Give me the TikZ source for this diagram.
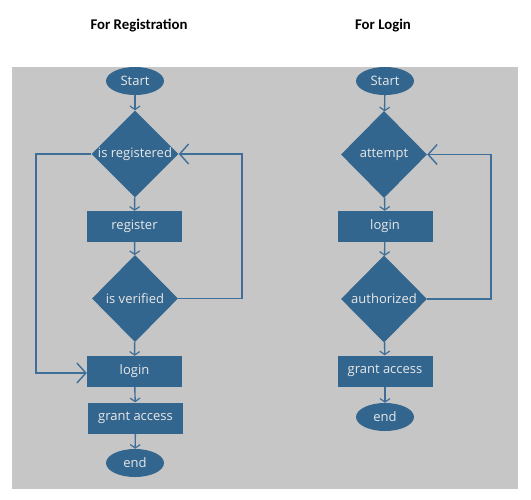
\documentclass[tikz,border=0pt]{standalone}
\usepackage{fontspec}
\setmainfont{Open Sans}
\newfontfamily\titlefont{Carlito}
\usetikzlibrary{shapes.geometric,arrows.meta}
\definecolor{boxfill}{HTML}{33668E}
\definecolor{linec}{HTML}{3F6F98}
\definecolor{bggray}{HTML}{C6C6C6}
\definecolor{txtc}{HTML}{E8E8E8}
\begin{document}
\begin{tikzpicture}[x=1pt,y=-1pt,
  shp/.style={fill=boxfill,draw=none,text=txtc,font=\fontsize{13}{15}\selectfont,inner sep=0pt},
  term/.style={shp,ellipse,minimum width=58pt,minimum height=28pt},
  proc/.style={shp,rectangle,minimum width=95pt,minimum height=31pt},
  dec/.style={shp,diamond,minimum width=86pt,minimum height=87pt},
  conn/.style={draw=linec,line width=1.4pt,-{Straight Barb[length=3.5pt,width=10pt,line width=1.2pt]}},
  loopc/.style={draw=linec,line width=1.4pt,-{Straight Barb[length=9pt,width=20pt,line width=1.4pt]}},
  ttl/.style={font=\titlefont\bfseries\fontsize{14.8}{17}\selectfont,text=black}
]
\useasboundingbox (0,0) rectangle (531,499);
\fill[white] (0,0) rectangle (531,499);
\fill[bggray] (12,67) rectangle (518,489);
\node[ttl] (t1) at (139,26) {For Registration};
\node[ttl] (t2) at (383,26) {For Login};
% left
\node[term] (s1) at (135,81) {Start};
\node[dec] (d1) at (135,154) {is registered};
\node[proc] (r1) at (134.5,226.5) {register};
\node[dec] (d2) at (135,298.5) {is verified};
\node[proc] (l1) at (134.5,371.5) {login};
\node[proc] (g1) at (135.5,418) {grant access};
\node[term] (e1) at (135,463) {end};
\coordinate (c1) at (36,154);
\coordinate (c2) at (36,373);
\coordinate (c3) at (242,298.5);
\coordinate (c4) at (242,154);
\draw[conn] (s1) -- (d1);
\draw[conn] (d1) -- (r1);
\draw[conn] (r1) -- (d2);
\draw[conn] (d2) -- (l1);
\draw[conn] (l1) -- (g1);
\draw[conn] (g1) -- (e1);
\draw[loopc] (d1.west) -- (c1) -- (c2) -- (c2 -| l1.west);
\draw[loopc] (d2.east) -- (c3) -- (c4) -- (d1.east);
% right
\node[term] (s2) at (385,81) {Start};
\node[dec] (d3) at (384,154.5) {attempt};
\node[proc] (l2) at (385,226.5) {login};
\node[dec] (d4) at (384,299) {authorized};
\node[proc] (g2) at (385,371) {grant access};
\node[term] (e2) at (385,417) {end};
\coordinate (c5) at (491,299);
\coordinate (c6) at (491,154.5);
\draw[conn] (s2) -- (d3);
\draw[conn] (d3) -- (l2);
\draw[conn] (l2) -- (d4);
\draw[conn] (d4) -- (g2);
\draw[conn] (g2) -- (e2);
\draw[loopc] (d4.east) -- (c5) -- (c6) -- (d3.east);
\end{tikzpicture}
\end{document}
